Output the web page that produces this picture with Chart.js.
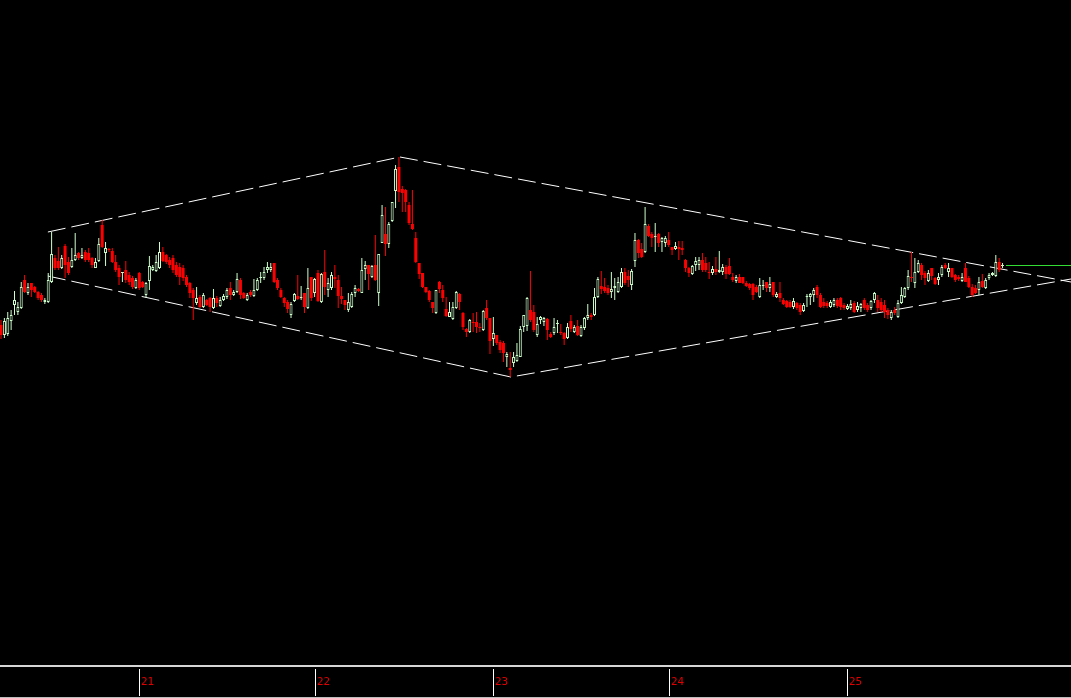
<!DOCTYPE html>
<html>
<head>
<meta charset="utf-8">
<title>Candles with diamond pattern</title>
<script src="https://cdn.jsdelivr.net/npm/chart.js@4.4.1/dist/chart.umd.min.js"></script>
<style>
  html, body { margin: 0; padding: 0; background: #000; overflow: hidden; }
  #wrap { width: 1071px; height: 698px; position: relative; }
</style>
</head>
<body>
<div id="wrap"><canvas id="priceChart"></canvas></div>
<script>
// OHLC per bar (price units)
const openPrices = [
  375,365,366,379,395,388,392,420,407,417, 413,408,405,398,398,418,442,439,432,454,
  438,433,440,447,442,448,447,442,432,439, 475,447,451,449,438,432,427,430,425,422,
  412,427,418,405,419,430,429,432,448,445, 440,442,435,433,432,423,417,410,397,403,
  393,400,402,392,402,394,400,403,412,405, 408,420,407,400,
  408,404,410,422,422,430,430,437,420,410, 402,398,385,399,404,402,407,392,423,407,
  427,398,428,410,412,423,420,404,400,390, 393,407,411,407,431,435,423,435,407,457,
  466,456,479,509,533,511,510,495,476,462, 437,427,413,409,398,387,418,410,391,383,
  381,392,406,387,371,368,378,378,373,370, 392,382,361,365,
  358,357,343,332,337,339,343,373,374,390, 388,365,380,378,381,366,367,376,368,367,
  362,379,368,374,364,372,382,385,385,403, 414,413,412,408,412,408,413,428,424,415,
  439,460,451,448,474,466,463,466,458,457, 460,453,451,453,452,440,432,426,435,435,
  440,437,428,427,431,428,428,433,434,423, 419,423,423,417,
  416,416,413,403,414,418,412,418,403,407, 400,399,398,393,397,395,389,403,403,405,
  413,405,398,397,393,395,400,402,395,391, 392,397,390,392,400,395,392,400,400,398,
  395,390,382,390,383,397,403,412,423,417, 428,435,427,419,432,422,420,425,435,428,
  432,425,423,419,432,422,413,412,410,419, 412,422,425,424,438,434
];
const highPrices = [
  380,382,388,390,409,398,418,425,417,417, 414,409,407,402,427,468,445,453,445,456,
  443,452,467,448,452,450,452,443,442,462, 480,458,452,452,445,435,428,439,428,424,
  422,428,419,418,444,435,445,458,453,446, 443,445,438,437,435,425,418,412,413,405,
  407,401,403,411,404,403,406,412,418,410, 427,422,408,407,
  410,421,422,428,433,438,437,437,422,412, 403,400,398,407,425,414,407,432,423,422,
  430,427,450,422,428,435,425,413,400,407, 408,415,412,442,439,435,435,465,446,495,
  493,478,498,535,543,514,511,498,510,468, 437,427,413,410,398,410,419,415,403,398,
  398,409,407,388,372,381,387,388,377,390, 400,382,383,365,
  360,359,348,348,348,357,374,385,403,429, 395,383,384,383,382,368,382,380,376,368,
  377,385,375,380,375,383,396,387,412,423, 429,422,415,428,422,423,432,432,430,431,
  467,461,457,493,476,468,477,467,463,464, 468,453,458,459,459,441,433,435,443,443,
  447,443,438,434,443,449,436,435,442,427, 425,426,423,419,
  417,417,415,422,420,418,423,418,408,418, 402,400,400,402,398,397,397,406,407,412,
  415,407,402,399,400,402,402,403,397,396, 400,399,398,397,402,397,400,408,405,402,
  400,392,390,393,400,413,413,430,448,442, 440,437,429,430,432,423,427,435,437,437,
  432,426,425,427,437,424,416,415,423,426, 422,427,428,445,442,437
];
const lowPrices = [
  361,362,364,370,385,385,391,407,405,403, 407,400,398,396,397,417,430,430,431,422,
  425,432,439,440,441,438,438,432,432,438, 452,434,448,437,428,415,418,417,415,411,
  411,410,412,402,410,429,428,431,438,436, 432,427,423,415,419,413,402,380,395,392,
  392,394,388,391,393,393,399,401,400,404, 407,401,401,399,
  403,403,409,417,420,427,428,417,410,402, 393,387,382,398,400,400,387,391,399,403,
  398,397,405,403,410,412,392,396,390,388, 392,403,408,407,420,410,422,419,394,457,
  444,452,478,492,498,488,488,475,470,437, 421,412,407,398,387,386,407,398,383,383,
  380,391,390,370,363,367,368,367,368,369, 380,346,354,355,
  347,338,333,323,333,338,343,368,369,378, 368,363,376,374,360,362,365,367,365,355,
  361,368,367,364,363,370,380,380,384,402, 406,407,405,402,400,407,412,415,413,410,
  433,442,442,447,463,453,448,453,448,453, 453,445,450,440,445,428,423,425,429,430,
  428,428,421,425,425,427,425,421,425,418, 417,417,416,413,
  410,400,407,402,410,408,408,403,402,398, 395,392,392,391,390,385,388,393,395,398,
  402,392,392,392,392,393,392,390,390,390, 390,387,388,388,390,388,390,397,388,388,
  382,381,380,385,382,396,402,410,418,412, 427,420,415,418,420,415,415,423,431,423,
  422,418,419,418,418,412,403,406,405,412, 411,420,424,423,428,432
];
const closePrices = [
  365,379,382,385,400,393,413,408,413,410, 408,402,400,400,420,446,432,432,442,435,
  427,440,445,442,445,440,440,435,438,456, 453,452,450,438,430,423,428,420,418,413,
  420,412,413,417,434,433,438,448,439,438, 435,430,425,423,422,415,407,402,402,393,
  405,395,393,402,397,400,404,410,405,408, 421,405,402,405,
  405,410,420,423,428,433,433,418,412,403, 397,391,396,406,401,403,393,412,402,421,
  399,426,413,417,425,421,404,401,395,398, 406,412,409,430,435,426,434,420,446,485,
  456,476,498,531,508,507,498,477,471,438, 426,413,408,400,392,410,411,402,384,388,
  393,408,398,373,368,380,377,373,372,389, 382,359,367,357,
  350,347,346,330,343,345,371,385,402,380, 370,376,383,382,370,363,373,377,367,361,
  373,371,373,365,373,382,385,383,403,421, 411,409,407,411,414,418,428,417,420,429,
  460,447,443,476,464,462,464,457,462,462, 455,450,454,451,450,432,427,434,439,440,
  430,430,427,431,428,430,433,426,426,420, 423,417,417,414,
  412,405,408,415,415,412,416,405,406,402, 396,393,393,399,392,388,395,404,406,410,
  405,393,394,394,398,400,394,393,392,394, 396,388,394,396,392,390,399,407,392,390,
  388,385,388,387,397,405,412,424,422,428, 437,425,422,427,424,416,423,433,432,432,
  423,420,421,423,418,413,405,407,418,413, 420,425,427,438,430,435
];

// Day labels on the time axis and the bar each day starts at
const dayLabels = ["21", "22", "23", "24", "25"];
const dayStartIndex = [41, 93, 146, 198, 251];

// Diamond trend lines and last price line, as (bar index, price)
const diamondUpper = [{ x: 13.9, y: 468 }, { x: 118.3, y: 543 }, { x: 317.3, y: 418 }];
const diamondLower = [{ x: 13.9, y: 424 }, { x: 151.2, y: 323 }, { x: 317.3, y: 421 }];
const lastPriceLine = [{ x: 298, y: 434.5 }, { x: 317.3, y: 434.5 }];

const UP_COLOR = "#ccffcc";
const DOWN_COLOR = "#ff0000";

const barIndex = openPrices.map((_, i) => i);
const isUp = barIndex.map((i) => closePrices[i] >= openPrices[i]);

// Bottom time axis: frame lines, day separators, red day numbers
const dayAxisPlugin = {
  id: "dayAxis",
  afterDraw(chart) {
    const { ctx, chartArea, scales } = chart;
    const w = chart.width;
    const h = chart.height;
    ctx.save();
    ctx.fillStyle = "#d6d6d6";
    ctx.fillRect(0, chartArea.bottom, w, 2);
    ctx.fillStyle = "#bdbdbd";
    ctx.fillRect(0, h - 1, w, 1);

    ctx.font = "11px 'DejaVu Sans Mono', monospace";
    ctx.textBaseline = "alphabetic";
    ctx.lineWidth = 1;
    dayStartIndex.forEach((idx, i) => {
      const x = Math.round(scales.x.getPixelForValue(idx)) + 0.5;
      ctx.strokeStyle = "#ffffff";
      ctx.beginPath();
      ctx.moveTo(x, chartArea.bottom + 4);
      ctx.lineTo(x, h - 2);
      ctx.stroke();
      ctx.fillStyle = "#e00000";
      ctx.fillText(dayLabels[i], x + 1.5, chartArea.bottom + 20);
    });
    ctx.restore();
  },
};

function trendLine(points, color, dash) {
  return {
    type: "line",
    data: points,
    borderColor: color,
    borderWidth: 1,
    borderDash: dash,
    pointRadius: 0,
    fill: false,
    tension: 0,
    order: 3,
  };
}

const ctx = document.getElementById("priceChart").getContext("2d");

new Chart(ctx, {
  type: "bar",
  data: {
    datasets: [
      {
        // candle bodies: hollow when up, filled red when down
        label: "body",
        data: barIndex.map((i) => ({ x: i, y: [openPrices[i], closePrices[i]] })),
        backgroundColor: isUp.map((u) => (u ? "#000000" : DOWN_COLOR)),
        borderColor: isUp.map((u) => (u ? UP_COLOR : DOWN_COLOR)),
        borderWidth: isUp.map((u) => (u ? 1 : 0)),
        borderSkipped: false,
        barThickness: 3,
        minBarLength: 1,
        inflateAmount: 0,
        grouped: false,
        order: 0,
      },
      {
        // wicks
        label: "wick",
        data: barIndex.map((i) => ({ x: i, y: [lowPrices[i], highPrices[i]] })),
        backgroundColor: isUp.map((u) => (u ? UP_COLOR : DOWN_COLOR)),
        borderWidth: 0,
        barThickness: 1,
        minBarLength: 1,
        inflateAmount: 0,
        grouped: false,
        order: 1,
      },
      trendLine(diamondUpper, "#ffffff", [18, 6]),
      trendLine(diamondLower, "#ffffff", [18, 6]),
      trendLine(lastPriceLine, "#33dd33", []),
    ],
  },
  options: {
    responsive: true,
    maintainAspectRatio: false,
    animation: false,
    events: [],
    layout: { padding: { left: 0, right: 0, top: 0, bottom: 33 } },
    plugins: {
      legend: { display: false },
      tooltip: { enabled: false },
    },
    scales: {
      x: { type: "linear", display: false, min: -0.3, max: 317.3, offset: false },
      y: { type: "linear", display: false, min: 35, max: 700 },
    },
  },
  plugins: [dayAxisPlugin],
});
</script>
</body>
</html>
